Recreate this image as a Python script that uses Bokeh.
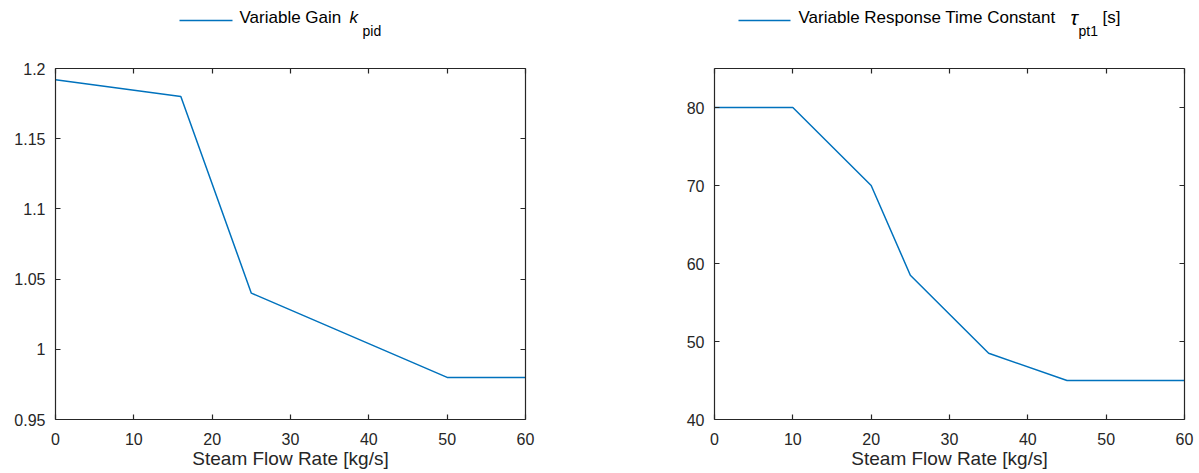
from bokeh.plotting import figure
from bokeh.models import Range1d, LinearAxis, FixedTicker, NumeralTickFormatter, CustomJSTickFormatter
from bokeh.layouts import row, column
from bokeh.embed import file_html
from bokeh.resources import INLINE
from bokeh.core.properties import value

# ---- data ----
flow_gain = [0, 16, 25, 50, 60]
gain_kpid = [1.192, 1.18, 1.04, 0.98, 0.98]

flow_tau = [0, 10, 20, 25, 35, 45, 60]
tau_pt1 = [80, 80, 70, 58.5, 48.5, 45, 45]

x_ticks = [0, 10, 20, 30, 40, 50, 60]
gain_ticks = [0.95, 1.0, 1.05, 1.1, 1.15, 1.2]
tau_ticks = [40, 50, 60, 70, 80]

x_label = "Steam Flow Rate [kg/s]"
leg1_main, leg1_sym, leg1_sub = "Variable Gain ", "k", "pid"
leg2_main, leg2_sym, leg2_sub, leg2_tail = "Variable Response Time Constant", "\u03c4", "pt1", "[s]"

LINE = "#0072BD"
INK = "#262626"
FONT = "Liberation Sans"


def make_legend(width, left, right, lx0, lx1, tx, sym_x, sub_x, main, sym, sub,
                tail=None, tail_x=None, sym_size="17px"):
    lg = figure(width=width, height=50, x_range=Range1d(left, width - right), y_range=Range1d(0, 50),
                x_axis_type=None, y_axis_type=None, toolbar_location=None,
                output_backend="svg", min_border=0, min_border_left=left, min_border_right=right,
                outline_line_color=None)
    lg.xgrid.visible = False
    lg.ygrid.visible = False
    lg.line([lx0, lx1], [30, 30], line_color=LINE, line_width=1.5)
    lg.text(x=[tx], y=[33], text=[main], text_font=value(FONT), text_font_size="17px",
            text_color="black", text_baseline="middle", text_align="left")
    lg.text(x=[sym_x], y=[33], text=[sym], text_font=value(FONT), text_font_size=sym_size,
            text_font_style="italic", text_color="black", text_baseline="middle", text_align="left")
    lg.text(x=[sub_x], y=[20], text=[sub], text_font=value(FONT), text_font_size="14px",
            text_color="black", text_baseline="middle", text_align="left")
    if tail:
        lg.text(x=[tail_x], y=[33], text=[tail], text_font=value(FONT), text_font_size="17px",
                text_color="black", text_baseline="middle", text_align="left")
    return lg


def style_axis(ax, show_labels=True):
    ax.axis_line_color = INK
    ax.axis_line_width = 1.2
    ax.major_tick_line_color = INK
    ax.major_tick_line_width = 1.2
    ax.major_tick_in = 5
    ax.major_tick_out = 0
    ax.minor_tick_line_color = None
    ax.major_label_text_font = FONT
    ax.major_label_text_font_size = "16px"
    ax.major_label_text_color = INK
    ax.major_label_standoff = 10
    if not show_labels:
        ax.formatter = CustomJSTickFormatter(code="return ''")
        ax.major_label_standoff = 0


def make_plot(width, left, right, xr, yr, xs, ys, yticks, yfmt):
    p = figure(width=width, height=423, x_range=Range1d(*xr), y_range=Range1d(*yr),
               toolbar_location=None, output_backend="svg",
               min_border_left=left, min_border_right=right, min_border_top=18, min_border_bottom=54,
               outline_line_color=None)
    p.xgrid.visible = False
    p.ygrid.visible = False
    p.line(xs, ys, line_color=LINE, line_width=1.5)
    p.xaxis.ticker = FixedTicker(ticks=x_ticks)
    p.yaxis.ticker = FixedTicker(ticks=yticks)
    p.yaxis.formatter = yfmt
    style_axis(p.xaxis[0])
    style_axis(p.yaxis[0])
    p.xaxis.major_label_standoff = 13
    p.xaxis.axis_label = x_label
    p.xaxis.axis_label_text_font = FONT
    p.xaxis.axis_label_text_font_size = "19px"
    p.xaxis.axis_label_text_font_style = "normal"
    p.xaxis.axis_label_text_color = INK
    p.xaxis.axis_label_standoff = 0
    top = LinearAxis(ticker=FixedTicker(ticks=x_ticks))
    rgt = LinearAxis(ticker=FixedTicker(ticks=yticks))
    style_axis(top, False)
    style_axis(rgt, False)
    p.add_layout(top, "above")
    p.add_layout(rgt, "right")
    return p


leg1 = make_legend(600, 55, 75, 179, 232, 239, 349, 362, leg1_main, leg1_sym, leg1_sub)
p1 = make_plot(600, 55, 75, (0, 60), (0.95, 1.2), flow_gain, gain_kpid, gain_ticks,
               NumeralTickFormatter(format="0.[00]"))

leg2 = make_legend(599, 114, 15, 138, 190, 198, 470, 478, leg2_main, leg2_sym, leg2_sub,
                   tail=leg2_tail, tail_x=502, sym_size="20px")
p2 = make_plot(599, 114, 15, (0, 60), (40, 85), flow_tau, tau_pt1, tau_ticks,
               NumeralTickFormatter(format="0"))

layout = row(column(leg1, p1, spacing=0), column(leg2, p2, spacing=0), spacing=0)

open("out.html", "w").write(file_html(layout, INLINE))
